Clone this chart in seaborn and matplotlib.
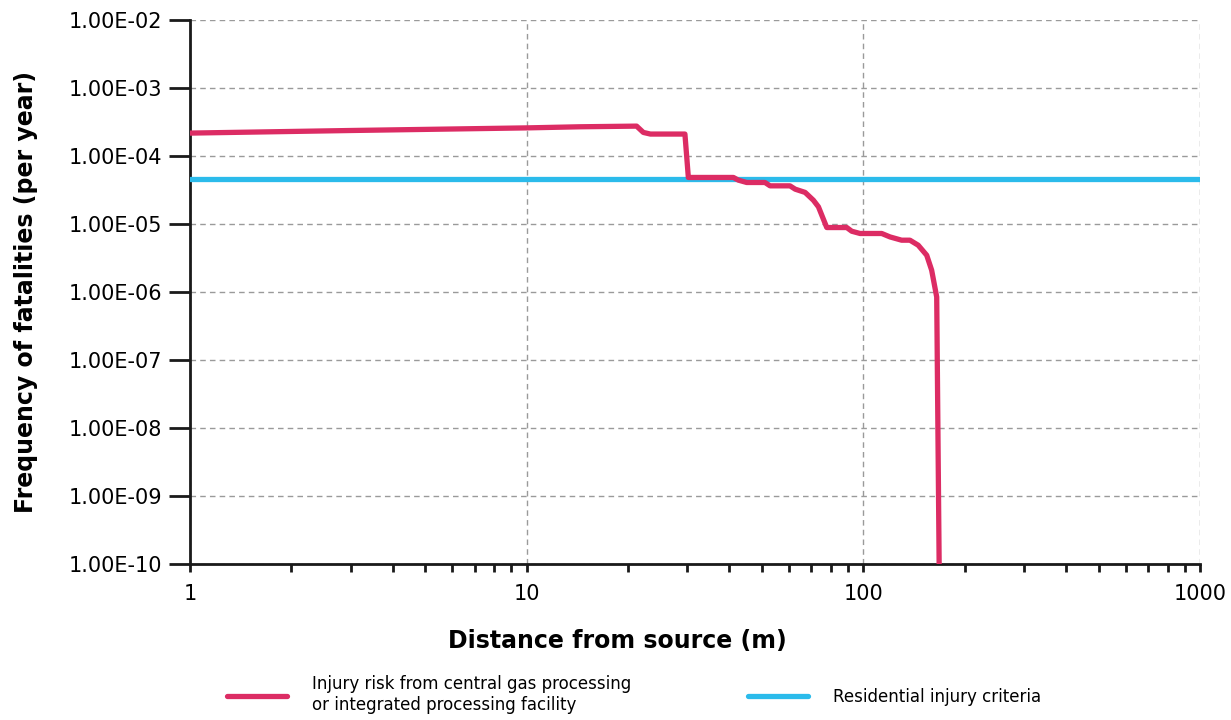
import numpy as np
import pandas as pd
import matplotlib
matplotlib.use("Agg")
import matplotlib.pyplot as plt
import matplotlib.ticker as mticker
import matplotlib.patheffects as pe
import seaborn as sns

# distance from source (m) and frequency of fatalities (per year)
risk_distance = [1.0, 3.0, 10.0, 14.4, 21.2, 22.2, 23.3, 29.5, 30.2, 41.1, 42.5,
                 45.0, 51.0, 52.8, 60.5, 62.7, 67.1, 71.0, 73.5, 77.8, 89.2,
                 92.3, 97.7, 113.3, 119.9, 129.8, 137.4, 145.4, 154.1, 159.4,
                 165.0, 168.0]
risk_frequency = [2.18e-4, 2.38e-4, 2.60e-4, 2.70e-4, 2.76e-4, 2.23e-4, 2.11e-4,
                  2.11e-4, 4.86e-5, 4.86e-5, 4.44e-5, 4.10e-5, 4.10e-5, 3.66e-5,
                  3.66e-5, 3.27e-5, 2.93e-5, 2.25e-5, 1.80e-5, 8.93e-6, 8.93e-6,
                  7.88e-6, 7.30e-6, 7.30e-6, 6.50e-6, 5.82e-6, 5.82e-6, 4.91e-6,
                  3.50e-6, 2.11e-6, 8.53e-7, 5.0e-11]

criteria_distance = [1.0, 1000.0]
criteria_frequency = [4.6e-5, 4.6e-5]

risk_label = "Injury risk from central gas processing\nor integrated processing facility"
criteria_label = "Residential injury criteria"

pink = "#dc2c64"
cyan = "#2bbbeb"

sns.set_style("white")
plt.rcParams['font.family'] = ['DejaVu Sans']
plt.rcParams['text.color'] = 'black'
plt.rcParams['axes.labelcolor'] = 'black'
plt.rcParams['xtick.color'] = 'black'
plt.rcParams['ytick.color'] = 'black'

risk_df = pd.DataFrame({"distance": risk_distance, "frequency": risk_frequency})
criteria_df = pd.DataFrame({"distance": criteria_distance, "frequency": criteria_frequency})

fig = plt.figure(figsize=(12.31, 7.2), dpi=100)
ax = fig.add_axes([0.1543, 0.216, 0.8207, 0.7562])

shadow = [pe.SimpleLineShadow(offset=(2, -2), alpha=0.12, shadow_color="black"), pe.Normal()]

sns.lineplot(data=risk_df, x="distance", y="frequency", ax=ax, color=pink,
             linewidth=3.8, estimator=None, sort=False, label=risk_label,
             path_effects=shadow, zorder=4)
sns.lineplot(data=criteria_df, x="distance", y="frequency", ax=ax, color=cyan,
             linewidth=3.8, estimator=None, sort=False, label=criteria_label,
             path_effects=shadow, zorder=3)

ax.set_xscale("log")
ax.set_yscale("log")
ax.set_xlim(1, 1000)
ax.set_ylim(1e-10, 1e-2)

ax.yaxis.set_major_locator(mticker.LogLocator(base=10, numticks=20))
ax.yaxis.set_minor_locator(mticker.NullLocator())
ax.yaxis.set_major_formatter(mticker.FuncFormatter(lambda v, p: f"{v:.2E}"))
ax.xaxis.set_major_locator(mticker.FixedLocator([1, 10, 100, 1000]))
ax.xaxis.set_major_formatter(mticker.FuncFormatter(lambda v, p: f"{v:g}"))
ax.xaxis.set_minor_locator(mticker.LogLocator(base=10, subs=np.arange(2, 10), numticks=20))
ax.xaxis.set_minor_formatter(mticker.NullFormatter())

ax.grid(True, which="major", color="#9a9a9a", linestyle=(0, (4, 3)), linewidth=1.0)
ax.set_axisbelow(True)

for side in ["top", "right"]:
    ax.spines[side].set_visible(False)
for side in ["left", "bottom"]:
    ax.spines[side].set_linewidth(2.0)
    ax.spines[side].set_color("#1a1a1a")

ax.tick_params(axis="y", which="major", direction="out", length=15, width=2.0,
               color="#1a1a1a", labelsize=15, pad=5, left=True)
ax.tick_params(axis="x", which="both", direction="out", length=6, width=2.0,
               color="#1a1a1a", labelsize=15, pad=8, bottom=True)

ax.set_xlabel("Distance from source (m)", fontsize=17, fontweight="bold")
ax.xaxis.set_label_coords(0.423, -0.118)
ax.set_ylabel("Frequency of fatalities (per year)", fontsize=17, fontweight="bold", labelpad=22)

handles, labels = ax.get_legend_handles_labels()
ax.get_legend().remove()
for h in handles:
    h.set_path_effects([])
    h.set_solid_capstyle("round")
fig.legend(handles, labels, loc="center", bbox_to_anchor=(0.515, 0.035), ncol=2,
           frameon=False, fontsize=12, handlelength=3.6, handletextpad=1.5,
           columnspacing=7.0)

plt.savefig("out.png", dpi=100)
plt.close()
